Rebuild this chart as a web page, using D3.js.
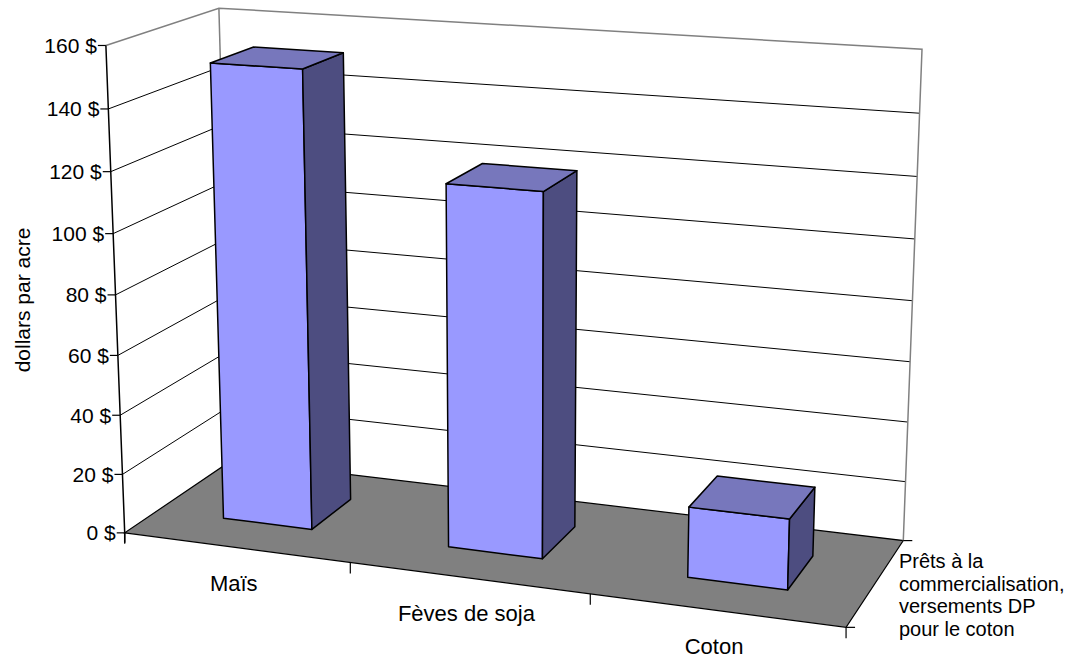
<!DOCTYPE html>
<html>
<head>
<meta charset="utf-8">
<script src="https://cdn.jsdelivr.net/npm/d3@7"></script>
<style>
  html, body { margin: 0; padding: 0; background: #fff; }
  svg { display: block; font-family: "Liberation Sans", Arial, sans-serif; }
</style>
</head>
<body>
<svg id="chart" width="1067" height="660"></svg>
<script>
// ---- data ----
const categories = ["Maïs", "Fèves de soja", "Coton"];
const values = [152, 119, 23];
const yTicks = [0, 20, 40, 60, 80, 100, 120, 140, 160];
const seriesLabel = ["Prêts à la", "commercialisation,", "versements DP", "pour le coton"];
const yTitle = "dollars par acre";

// ---- 3D frame: world X = category units (0..3), Y = hundreds of dollars, Z = depth (0 front .. 1 back)
// screen anchors of the plot box used to calibrate the perspective camera
const frameAnchors = [
  [0, 0,   0, 125,   533],
  [3, 0,   0, 846,   627],
  [3, 0,   1, 903,   541],
  [0, 0,   1, 231.7, 460.4],
  [0, 1.6, 0, 106,   45.7],
  [0, 1.6, 1, 219,   8],
  [3, 1.6, 1, 922,   49],
  [0, 0.2, 0, 122,   474],
  [0, 0.4, 0, 120,   415],
  [0, 1.2, 0, 111,   172],
  [0, 1.4, 0, 108,   109],
  [1, 0,   0, 350,   562.5],
  [2, 0,   0, 591,   594]
];

// least-squares DLT: 3x4 projection matrix with p[11] = 1
function solveProjection(pts) {
  const rows = [], rhs = [];
  pts.forEach(([X, Y, Z, u, v]) => {
    const U = (u - 500) / 500, V = (v - 300) / 500;
    rows.push([X, Y, Z, 1, 0, 0, 0, 0, -U * X, -U * Y, -U * Z]); rhs.push(U);
    rows.push([0, 0, 0, 0, X, Y, Z, 1, -V * X, -V * Y, -V * Z]); rhs.push(V);
  });
  const n = 11;
  const M = Array.from({ length: n }, () => new Array(n + 1).fill(0));
  rows.forEach((r, k) => {
    for (let i = 0; i < n; i++) {
      for (let j = 0; j < n; j++) M[i][j] += r[i] * r[j];
      M[i][n] += r[i] * rhs[k];
    }
  });
  for (let c = 0; c < n; c++) {
    let piv = c;
    for (let r = c + 1; r < n; r++) if (Math.abs(M[r][c]) > Math.abs(M[piv][c])) piv = r;
    [M[c], M[piv]] = [M[piv], M[c]];
    for (let r = 0; r < n; r++) {
      if (r === c) continue;
      const f = M[r][c] / M[c][c];
      for (let j = c; j <= n; j++) M[r][j] -= f * M[c][j];
    }
  }
  return M.map((row, i) => row[n] / row[i]);
}
const P = solveProjection(frameAnchors);
function project(X, Y, Z) {
  const w = P[8] * X + P[9] * Y + P[10] * Z + 1;
  const U = (P[0] * X + P[1] * Y + P[2] * Z + P[3]) / w;
  const V = (P[4] * X + P[5] * Y + P[6] * Z + P[7]) / w;
  return [U * 500 + 500, V * 500 + 300];
}

// ---- scales ----
const yScale = d3.scaleLinear().domain([0, 160]).range([0, 1.6]);
const xScale = d3.scaleBand().domain(categories).range([0, 3]).paddingInner(0.6).paddingOuter(0.3);
const xEdges = d3.range(0, categories.length + 1).map(i => i * xScale.step());
const zScale = d3.scaleLinear().domain([0, 1]).range([0, 1]);
const barZ0 = zScale(0.3), barZ1 = zScale(0.7);
const X0 = 0, X1 = 3;

const pt = (X, v, Z) => project(X, yScale(v), Z);
const poly = arr => "M" + arr.map(p => p.join(",")).join("L") + "Z";
const line = d3.line();

const svg = d3.select("#chart");

// ---- floor ----
svg.append("path")
  .attr("d", poly([pt(X0, 0, 0), pt(X1, 0, 0), pt(X1, 0, 1), pt(X0, 0, 1)]))
  .attr("fill", "#808080").attr("stroke", "#000").attr("stroke-width", 1.2);

// ---- gridlines on left and back walls ----
const grid = svg.append("g").attr("fill", "none").attr("stroke", "#000").attr("stroke-width", 1);
yTicks.filter(t => t > 0 && t < 160).forEach(t => {
  grid.append("path").attr("d", line([pt(X0, t, 0), pt(X0, t, 1), pt(X1, t, 1)]));
});

// wall borders
svg.append("path")
  .attr("d", line([pt(X0, 160, 0), pt(X0, 160, 1), pt(X1, 160, 1), pt(X1, 0, 1)]))
  .attr("fill", "none").attr("stroke", "#808080").attr("stroke-width", 1.5);
svg.append("path")
  .attr("d", line([pt(X0, 160, 1), pt(X0, 0, 1)]))
  .attr("fill", "none").attr("stroke", "#808080").attr("stroke-width", 1.5);

// ---- value axis ----
const axis = svg.append("g").attr("stroke", "#000").attr("fill", "none");
const aTop = pt(X0, 160, 0), aBot = pt(X0, 0, 0);
axis.append("path").attr("d", line([aTop, aBot, [aBot[0], aBot[1] + 10]])).attr("stroke-width", 1.5);
yTicks.forEach(t => {
  const p = pt(X0, t, 0);
  axis.append("path").attr("d", line([p, [p[0] - 8, p[1]]])).attr("stroke-width", 1.2);
  svg.append("text")
    .attr("x", p[0] - 9).attr("y", p[1])
    .attr("text-anchor", "end").attr("dominant-baseline", "central")
    .attr("font-size", 21).attr("fill", "#000")
    .text(t + " $");
});
svg.append("text")
  .attr("transform", "translate(22,300) rotate(-90)")
  .attr("text-anchor", "middle").attr("dominant-baseline", "central")
  .attr("font-size", 21).attr("fill", "#000")
  .text(yTitle);

// ---- category axis (front floor edge) ----
xEdges.forEach(x => {
  const p = pt(x, 0, 0);
  axis.append("path").attr("d", line([p, [p[0], p[1] + 11]])).attr("stroke-width", 1.2);
});
categories.forEach(c => {
  const p = pt(xScale(c) + xScale.bandwidth() / 2, 0, 0);
  svg.append("text")
    .attr("x", p[0] - 2).attr("y", p[1] + 36)
    .attr("text-anchor", "middle").attr("dominant-baseline", "central")
    .attr("font-size", 22).attr("fill", "#000")
    .text(c);
});

// ---- depth (series) axis ----
[0, 1].forEach(z => {
  const p = pt(X1, 0, z);
  axis.append("path").attr("d", line([p, [p[0] + 9, p[1]]])).attr("stroke-width", 1.2);
});
const mid = pt(X1, 0, 0.5);
const sl = svg.append("text")
  .attr("font-size", 20).attr("fill", "#000");
seriesLabel.forEach((s, i) => {
  sl.append("tspan")
    .attr("x", mid[0] + 23)
    .attr("y", mid[1] + 13 + (i - (seriesLabel.length - 1) / 2) * 22.7)
    .attr("dominant-baseline", "central")
    .text(s);
});

// ---- columns ----
const bars = svg.append("g").attr("stroke", "#000").attr("stroke-width", 1.5).attr("stroke-linejoin", "round");
categories.forEach((c, i) => {
  const x0 = xScale(c), x1 = x0 + xScale.bandwidth(), v = values[i];
  const g = bars.append("g");
  g.append("path").attr("fill", "#9999FF")
    .attr("d", poly([pt(x0, 0, barZ0), pt(x1, 0, barZ0), pt(x1, v, barZ0), pt(x0, v, barZ0)]));
  g.append("path").attr("fill", "#4D4D80")
    .attr("d", poly([pt(x1, 0, barZ0), pt(x1, 0, barZ1), pt(x1, v, barZ1), pt(x1, v, barZ0)]));
  g.append("path").attr("fill", "#7777BC")
    .attr("d", poly([pt(x0, v, barZ0), pt(x1, v, barZ0), pt(x1, v, barZ1), pt(x0, v, barZ1)]));
});
</script>
</body>
</html>
